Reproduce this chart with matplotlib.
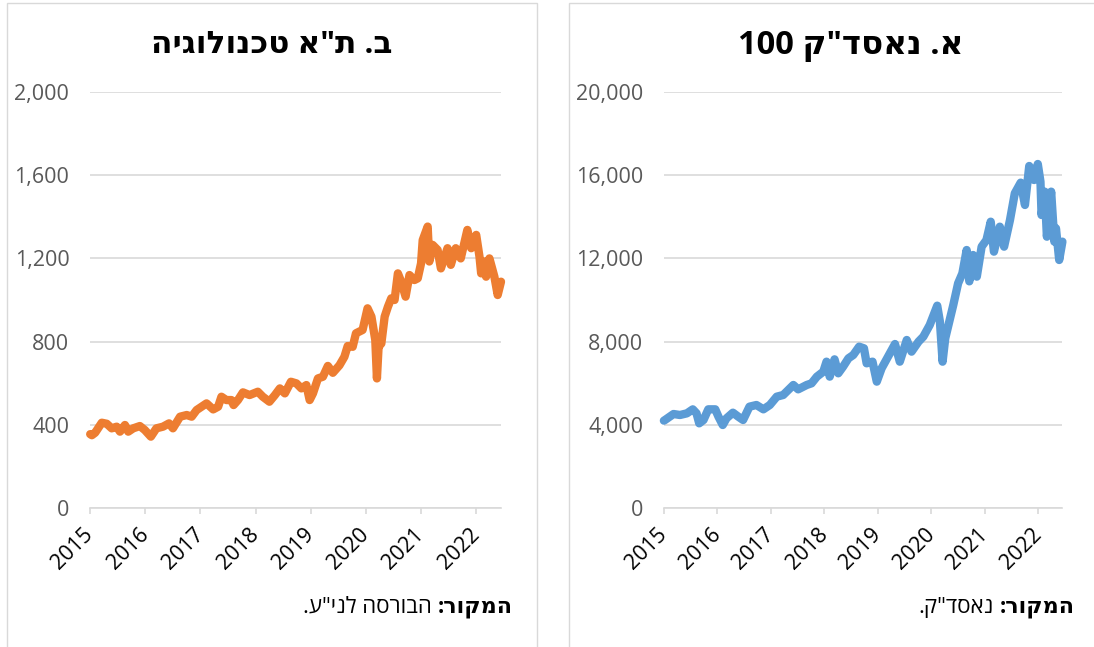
import re
import matplotlib
matplotlib.use("Agg")
import matplotlib.pyplot as plt
from matplotlib.patches import Rectangle
from matplotlib.ticker import FuncFormatter
import matplotlib.transforms as mtransforms

plt.rcParams['font.family'] = ['Open Sans', 'DejaVu Sans']

# ---------------- data ----------------
tech_years = [2015.00, 2015.03, 2015.09, 2015.21, 2015.30, 2015.39, 2015.48, 2015.54, 2015.63, 2015.69,
              2015.78, 2015.90, 2015.99, 2016.10, 2016.20, 2016.32, 2016.43, 2016.50, 2016.63, 2016.75,
              2016.84, 2016.93, 2017.11, 2017.23, 2017.32, 2017.38, 2017.47, 2017.56, 2017.60, 2017.68,
              2017.77, 2017.89, 2018.04, 2018.13, 2018.25, 2018.35, 2018.44, 2018.53, 2018.64, 2018.74,
              2018.83, 2018.92, 2018.98, 2019.04, 2019.13, 2019.22, 2019.31, 2019.40, 2019.52, 2019.61,
              2019.67, 2019.76, 2019.82, 2019.94, 2020.03, 2020.10, 2020.12, 2020.17, 2020.20, 2020.23,
              2020.28, 2020.34, 2020.40, 2020.46, 2020.52, 2020.58, 2020.64, 2020.72, 2020.79, 2020.88,
              2020.94, 2021.00, 2021.03, 2021.12, 2021.15, 2021.21, 2021.30, 2021.36, 2021.48, 2021.54,
              2021.63, 2021.72, 2021.84, 2021.91, 2022.00, 2022.06, 2022.09, 2022.15, 2022.18, 2022.24,
              2022.33, 2022.39, 2022.45]
tech_values = [355, 350, 362, 410, 405, 383, 391, 367, 399, 367,
               383, 394, 375, 343, 383, 391, 407, 383, 439, 447,
               439, 471, 503, 474, 487, 535, 519, 519, 495, 519,
               556, 543, 559, 535, 511, 543, 575, 551, 607, 599,
               575, 591, 519, 551, 623, 631, 683, 650, 686, 727,
               779, 775, 840, 856, 960, 920, 888, 808, 623, 775,
               791, 920, 968, 1008, 1000, 1128, 1088, 1016, 1120, 1096,
               1104, 1176, 1288, 1353, 1185, 1265, 1241, 1152, 1249, 1169,
               1249, 1200, 1337, 1249, 1313, 1208, 1128, 1185, 1112, 1200,
               1112, 1024, 1088]

ndx_years = [2015.00, 2015.02, 2015.18, 2015.30, 2015.43, 2015.54, 2015.61, 2015.66, 2015.74, 2015.83,
             2015.96, 2016.02, 2016.10, 2016.17, 2016.29, 2016.39, 2016.48, 2016.60, 2016.73, 2016.86,
             2016.98, 2017.11, 2017.23, 2017.42, 2017.51, 2017.67, 2017.76, 2017.86, 2017.98, 2018.04,
             2018.10, 2018.19, 2018.26, 2018.35, 2018.45, 2018.54, 2018.65, 2018.74, 2018.79, 2018.90,
             2018.98, 2019.07, 2019.19, 2019.32, 2019.41, 2019.54, 2019.63, 2019.76, 2019.85, 2019.97,
             2020.11, 2020.16, 2020.21, 2020.26, 2020.32, 2020.41, 2020.50, 2020.58, 2020.66, 2020.71,
             2020.78, 2020.85, 2020.94, 2021.03, 2021.11, 2021.17, 2021.28, 2021.36, 2021.47, 2021.56,
             2021.67, 2021.75, 2021.83, 2021.92, 2021.99, 2022.04, 2022.06, 2022.12, 2022.16, 2022.24,
             2022.30, 2022.33, 2022.39, 2022.45]
ndx_values = [4200, 4231, 4519, 4471, 4551, 4744, 4551, 4071, 4231, 4744,
              4744, 4391, 3990, 4311, 4583, 4391, 4231, 4872, 4952, 4744,
              4952, 5353, 5433, 5914, 5705, 5914, 5994, 6315, 6555, 7035,
              6315, 7147, 6475, 6796, 7196, 7356, 7757, 7677, 6956, 7035,
              6075, 6715, 7276, 7885, 7035, 8077, 7517, 7997, 8237, 8798,
              9727, 8958, 7035, 8157, 8798, 9759, 10801, 11282, 12404, 10897,
              12164, 11122, 12564, 12885, 13765, 12324, 13525, 12564, 13845, 15129,
              15641, 14568, 16443, 15769, 16539, 15689, 14087, 15209, 13044, 15209,
              12805, 13445, 11923, 12805]

year_ticks = [2015, 2016, 2017, 2018, 2019, 2020, 2021, 2022]
year_labels = ['2015', '2016', '2017', '2018', '2019', '2020', '2021', '2022']
tech_yticks = [0, 400, 800, 1200, 1600, 2000]
ndx_yticks = [0, 4000, 8000, 12000, 16000, 20000]

title_tech = 'ב. ת"א טכנולוגיה'
title_ndx = 'א. נאסד"ק 100'
source_label = 'המקור:'
source_tech = 'הבורסה לני"ע.'
source_ndx = 'נאסד"ק.'


def vis(s):
    """Convert logical RTL Hebrew string into visual (LTR) order, keeping digit runs."""
    r = s[::-1]
    return re.sub(r'[0-9][0-9,.]*[0-9]|[0-9]', lambda m: m.group(0)[::-1], r)


W, H = 1094, 647
fig = plt.figure(figsize=(W / 100, H / 100), dpi=100)

# panel borders
border_col = '#d9d9d9'
fig.add_artist(Rectangle((7 / W, -0.05), 530 / W, 1.05 - 3 / H, transform=fig.transFigure,
                         fill=False, ec=border_col, lw=1.0))
fig.add_artist(Rectangle((569 / W, -0.05), 600 / W, 1.05 - 3 / H, transform=fig.transFigure,
                         fill=False, ec=border_col, lw=1.0))

grid_col = '#d9d9d9'
label_gray = '#595959'


def style_axes(ax, yticks, xmax):
    ax.set_xlim(2015, xmax)
    ax.set_ylim(yticks[0], yticks[-1])
    ax.set_yticks(yticks)
    ax.yaxis.set_major_formatter(FuncFormatter(lambda v, p: f'{int(v):,}'))
    ax.set_xticks(year_ticks)
    ax.set_xticklabels(year_labels, rotation=45, ha='right', va='center',
                       rotation_mode='anchor', fontsize=15.5, color='black')
    offset = mtransforms.ScaledTranslation(4 / 100, 0, fig.dpi_scale_trans)
    for lab in ax.get_xticklabels():
        lab.set_transform(lab.get_transform() + offset)
    ax.grid(axis='y', color=grid_col, lw=1.2)
    ax.set_axisbelow(True)
    for s in ['top', 'right', 'left']:
        ax.spines[s].set_visible(False)
    ax.spines['bottom'].set_color(grid_col)
    ax.spines['bottom'].set_linewidth(1.2)
    ax.tick_params(axis='y', length=0, pad=15, labelsize=15.5, labelcolor=label_gray)
    ax.tick_params(axis='x', direction='out', length=4, width=1.2, color=grid_col, pad=13)


ax1 = fig.add_axes([90.2 / W, 1 - 508 / H, 410.8 / W, 416 / H])
ax1.plot(tech_years, tech_values, color='#ED7D31', lw=6.0, solid_capstyle='round',
         solid_joinstyle='round', clip_on=False, zorder=3)
style_axes(ax1, tech_yticks, 2022.45)

ax2 = fig.add_axes([663.9 / W, 1 - 508 / H, 398.5 / W, 416 / H])
ax2.plot(ndx_years, ndx_values, color='#5B9BD5', lw=6.0, solid_capstyle='round',
         solid_joinstyle='round', clip_on=False, zorder=3)
style_axes(ax2, ndx_yticks, 2022.45)

# titles
fig.text(272 / W, 1 - 45 / H, vis(title_tech), ha='center', va='center',
         fontsize=22.5, fontweight='bold', color='black')
fig.text(851 / W, 1 - 45 / H, vis(title_ndx), ha='center', va='center',
         fontsize=23.5, fontweight='bold', color='black')

# sources
for xr, src in [(513, source_tech), (1075, source_ndx)]:
    b = fig.text(xr / W, 1 - 607 / H, vis(source_label), ha='right', va='center',
                 fontsize=16, fontweight='bold', color='black')
    fig.canvas.draw()
    bb = b.get_window_extent()
    fig.text((bb.x0 - 6) / W, 1 - 607 / H, vis(src),
             ha='right', va='center', fontsize=16, color='black')

fig.savefig('out.png', dpi=100)
